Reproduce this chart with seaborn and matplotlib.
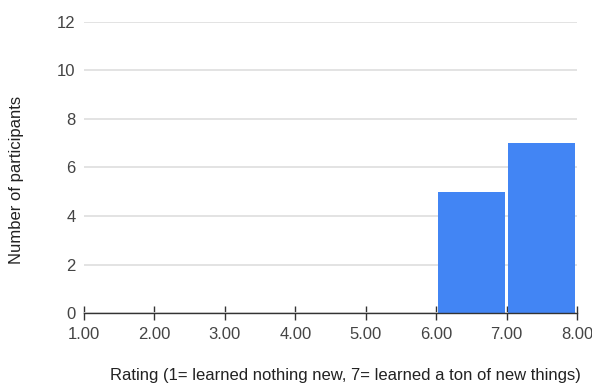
import matplotlib
matplotlib.use("Agg")
import matplotlib.pyplot as plt
import seaborn as sns
import numpy as np

# Rating bins (1..8) and participant counts per bin
bin_edges = [1, 2, 3, 4, 5, 6, 7, 8]
bin_centers = [1.5, 2.5, 3.5, 4.5, 5.5, 6.5, 7.5]
counts = [0, 0, 0, 0, 0, 5, 7]
x_tick_labels = ["1.00", "2.00", "3.00", "4.00", "5.00", "6.00", "7.00", "8.00"]
y_ticks = [0, 2, 4, 6, 8, 10, 12]

sns.set_theme(style="white")
plt.rcParams["font.family"] = ["Liberation Sans", "DejaVu Sans"]

fig = plt.figure(figsize=(5.92, 3.87), dpi=100)
ax = fig.add_axes([0.1419, 0.1912, 0.8328, 0.752])

sns.histplot(x=bin_centers, weights=counts, bins=bin_edges, shrink=0.95,
             color="#4285F4", alpha=1, edgecolor="none", linewidth=0, ax=ax)

ax.set_xlim(1, 8)
ax.set_ylim(0, 12)
ax.set_xticks(bin_edges)
ax.set_xticklabels(x_tick_labels)
ax.set_yticks(y_ticks)

ax.yaxis.grid(True, color="#e0e0e0", linewidth=1.3)
ax.set_axisbelow(True)

for side in ["top", "right", "left"]:
    ax.spines[side].set_visible(False)
ax.spines["bottom"].set_color("#333333")
ax.spines["bottom"].set_linewidth(1.0)
ax.spines["bottom"].set_zorder(5)

ax.tick_params(axis="x", direction="inout", length=10, width=1.0,
               color="#333333", pad=5, labelsize=12, labelcolor="#444444",
               bottom=True)
ax.tick_params(axis="y", length=0, pad=6, labelsize=12, labelcolor="#444444")

ax.set_xlabel("Rating (1= learned nothing new, 7= learned a ton of new things)",
              fontsize=12, color="#222222")
ax.set_ylabel("Number of participants", fontsize=12, color="#222222")
ax.xaxis.set_label_coords(0.53, -0.19)
ax.yaxis.set_label_coords(-0.122, 0.457)

fig.savefig("out.png", dpi=100)
